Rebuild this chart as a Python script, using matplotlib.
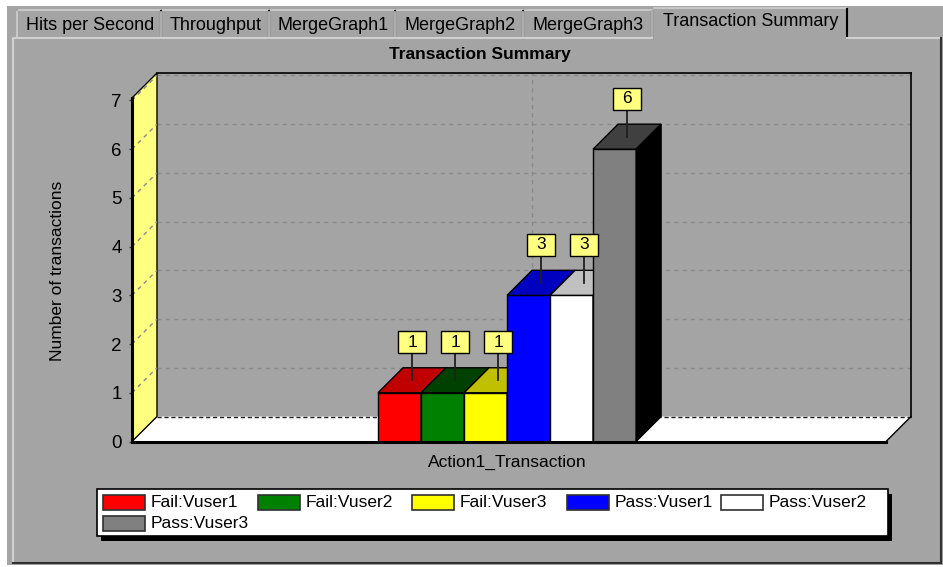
import matplotlib
matplotlib.use("Agg")
import matplotlib.pyplot as plt
from matplotlib.patches import Rectangle, Polygon

# ---------------- data ----------------
categories = ["Action1_Transaction"]
series = ["Fail:Vuser1", "Fail:Vuser2", "Fail:Vuser3",
          "Pass:Vuser1", "Pass:Vuser2", "Pass:Vuser3"]
values = [1, 1, 1, 3, 3, 6]
colors = ["#FF0000", "#008000", "#FFFF00", "#0000FF", "#FFFFFF", "#808080"]
top_colors = ["#C00000", "#004000", "#C0C000", "#0000C0", "#C0C0C0", "#404040"]
side_colors = ["#800000", "#002000", "#808000", "#000080", "#808080", "#000000"]
yticks = [0, 1, 2, 3, 4, 5, 6, 7]
tabs = ["Hits per Second", "Throughput", "MergeGraph1",
        "MergeGraph2", "MergeGraph3", "Transaction Summary"]
title = "Transaction Summary"
ylabel = "Number of transactions"

plt.rcParams["font.family"] = ["Liberation Sans", "DejaVu Sans"]

W, H = 943, 567
BG = "#A4A4A4"
LIGHT = "#D0D0D0"
DARK = "#303030"
FS = 12.5

fig = plt.figure(figsize=(W / 100, H / 100), dpi=100)
fig.patch.set_facecolor("white")

# ---------------- window chrome (pixel coordinates) ----------------
bg = fig.add_axes([0, 0, 1, 1])
bg.set_xlim(0, W)
bg.set_ylim(H, 0)
bg.axis("off")
bg.add_patch(Rectangle((7, 6), W - 7, 559, facecolor=BG, edgecolor="none", zorder=0))

tab_edges = [17, 161, 269, 395, 523, 652, 847]
sel = len(tabs) - 1
for i, name in enumerate(tabs):
    x0, x1 = tab_edges[i], tab_edges[i + 1]
    if i == sel:
        ytop, ty = 8, 22
    else:
        ytop, ty = 10, 25
    bg.plot([x0, x0], [38, ytop + 2], color=LIGHT, lw=1.2, zorder=1)
    bg.plot([x0 + 2, x1 - 1], [ytop, ytop], color=LIGHT, lw=1.2, zorder=1)
    bg.plot([x1, x1], [ytop + 1, 38], color="black", lw=1.5, zorder=1)
    bg.text((x0 + x1) / 2 + 1, ty, name, ha="center", va="center",
            fontsize=13, color="black", zorder=2)

# panel border
bg.plot([13, tab_edges[sel]], [38, 38], color=LIGHT, lw=1.5, zorder=1)
bg.plot([tab_edges[-1], 941], [38, 38], color=LIGHT, lw=1.5, zorder=1)
bg.plot([13, 13], [38, 563], color=LIGHT, lw=1.5, zorder=1)
bg.plot([941, 941], [38, 563], color=DARK, lw=1.5, zorder=1)
bg.plot([13, 941], [563, 563], color=DARK, lw=1.5, zorder=1)

bg.text(479.5, 55, title, ha="center", va="center", fontsize=FS,
        fontweight="bold", color="black")

# legend (manual, Windows style)
bg.add_patch(Rectangle((101, 494), 791, 47, facecolor="black", edgecolor="none", zorder=3))
bg.add_patch(Rectangle((97, 489), 791, 47, facecolor="white", edgecolor="black",
                       lw=1.2, zorder=4))
for i, (name, c) in enumerate(zip(series, colors)):
    col, row = i % 5, i // 5
    px = 103 + col * 154.5
    py = 495 + row * 20.5
    bg.add_patch(Rectangle((px, py), 42, 15, facecolor=c, edgecolor=DARK,
                           lw=1.2, zorder=5))
    bg.text(px + 48, py + 7.8, name, ha="left", va="center", fontsize=FS,
            color="black", zorder=6)

# ---------------- 3D-looking bar chart (data coordinates) ----------------
TOP = 7.05
ax = fig.add_axes([132 / W, (H - 441.5) / H, (886 - 132) / W, (441.5 - 98) / H])
XL, XR = -8.72, 8.81
ax.set_xlim(XL, XR)
ax.set_ylim(0, TOP)
ax.patch.set_visible(False)
for s in ["top", "right"]:
    ax.spines[s].set_visible(False)
for s in ["left", "bottom"]:
    ax.spines[s].set_linewidth(2.2)
    ax.spines[s].set_color("black")
    ax.spines[s].set_zorder(20)

px_x = (886 - 132) / (XR - XL)
px_y = (441.5 - 98) / TOP
DX = 25 / px_x
DY = 25 / px_y

GRID = "#8A8A8A"
# floor
ax.add_patch(Polygon([(XL, 0), (XR, 0), (XR + DX, DY), (XL + DX, DY)],
                     closed=True, facecolor="white", edgecolor="none",
                     zorder=2, clip_on=False))
ax.plot([XL + DX, XR + DX], [DY, DY], color="#202020", lw=1, ls=(0, (3, 2)),
        zorder=3, clip_on=False)
ax.plot([XR, XR + DX], [0, DY], color="black", lw=1, zorder=3, clip_on=False)
# back wall
ax.plot([XL + DX, XR + DX], [TOP + DY, TOP + DY], color="black", lw=1.2,
        zorder=3, clip_on=False)
ax.plot([XR + DX, XR + DX], [DY, TOP + DY], color="black", lw=1.2,
        zorder=3, clip_on=False)
for v in yticks[1:]:
    ax.plot([XL + DX, XR + DX], [v + DY, v + DY], color=GRID, lw=1,
            ls=(0, (3, 3)), zorder=1, clip_on=False)
ax.plot([0 + DX, 0 + DX], [DY, TOP + DY], color=GRID, lw=1, ls=(0, (3, 3)),
        zorder=1, clip_on=False)
# left wall
ax.add_patch(Polygon([(XL, 0), (XL + DX, DY), (XL + DX, TOP + DY), (XL, TOP)],
                     closed=True, facecolor="#FFFF80", edgecolor="black",
                     lw=1, zorder=4, clip_on=False))
for v in yticks[1:]:
    ax.plot([XL, XL + DX], [v, v + DY], color=GRID, lw=1, ls=(0, (3, 3)),
            zorder=5, clip_on=False)

# bars
n = len(values)
for i, (v, c, tc, sc) in enumerate(zip(values, colors, top_colors, side_colors)):
    left = i - n / 2
    right = left + 1
    z = 10 + i
    ax.add_patch(Rectangle((left, 0), 1, v, facecolor=c, edgecolor="black",
                           lw=1, zorder=z, clip_on=False))
    ax.add_patch(Polygon([(left, v), (right, v), (right + DX, v + DY), (left + DX, v + DY)],
                         closed=True, facecolor=tc, edgecolor="black", lw=1,
                         zorder=z, clip_on=False))
    ax.add_patch(Polygon([(right, 0), (right + DX, DY), (right + DX, v + DY), (right, v)],
                         closed=True, facecolor=sc, edgecolor="black", lw=1,
                         zorder=z, clip_on=False))

# value labels
for i, v in enumerate(values):
    left = i - n / 2
    cx = left + 0.5 + DX / 2
    cy = v + DY / 2
    lead = 27 / px_y
    bw, bh = 28 / px_x, 22 / px_y
    ax.plot([cx, cx], [cy, cy + lead], color="#202020", lw=1.3, zorder=30,
            clip_on=False)
    ax.add_patch(Rectangle((cx - bw / 2, cy + lead), bw, bh, facecolor="#FFFF80",
                           edgecolor="black", lw=1, zorder=31, clip_on=False))
    ax.text(cx, cy + lead + bh / 2, str(v), ha="center", va="center",
            fontsize=12.5, color="black", zorder=32, clip_on=False)

ax.set_yticks(yticks)
ax.set_yticklabels([str(t) for t in yticks])
ax.tick_params(axis="y", direction="out", length=2.5, width=1, color="#404040",
               pad=5, labelsize=13.5)
ax.set_xticks([0])
ax.set_xticklabels(categories)
ax.tick_params(axis="x", length=0, pad=9.5, labelsize=FS)
ax.set_ylabel(ylabel, fontsize=FS, va="center")
ax.yaxis.set_label_coords((58 - 132) / (886 - 132), (441.5 - 271) / (441.5 - 98))

fig.savefig("out.png", dpi=100, facecolor=fig.get_facecolor())
